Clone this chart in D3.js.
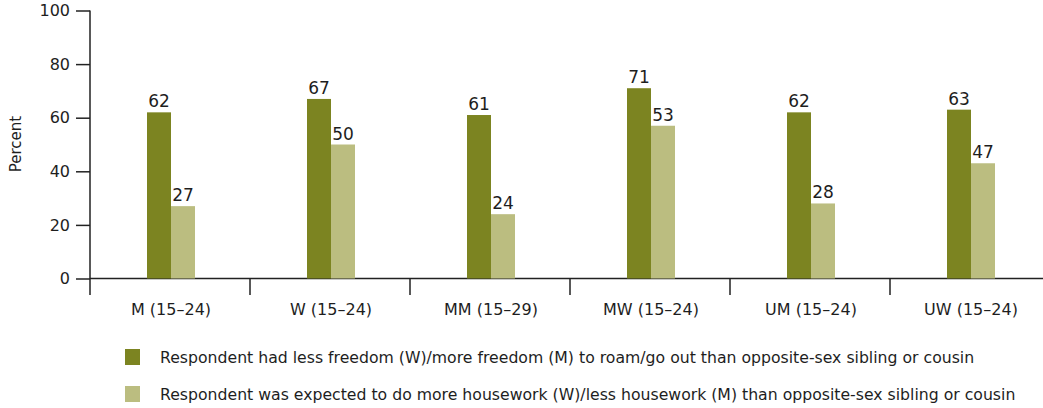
<!DOCTYPE html>
<html><head><meta charset="utf-8">
<script src="https://cdn.jsdelivr.net/npm/d3@7"></script>
<style>body{margin:0;background:#fff}svg text{font-family:"DejaVu Sans",sans-serif;fill:#1e1e1e}</style>
</head><body>
<svg id="c" width="1043" height="408"></svg>
<script>
const categories = ["M (15\u201324)","W (15\u201324)","MM (15\u201329)","MW (15\u201324)","UM (15\u201324)","UW (15\u201324)"];
const freedom = [62,67,61,71,62,63];
const freedomLabels = ["62","67","61","71","62","63"];
const housework = [27,50,24,57,28,43];
const houseworkLabels = ["27","50","24","53","28","47"];
const seriesNames = [
  "Respondent had less freedom (W)/more freedom (M) to roam/go out than opposite-sex sibling or cousin",
  "Respondent was expected to do more housework (W)/less housework (M) than opposite-sex sibling or cousin"
];
const yTicks = [0,20,40,60,80,100];
const colors = ["#7c8421","#bbbd80"];

const svg = d3.select("#c");
const y = d3.scaleLinear().domain([0,100]).range([278.5,10.5]);
const x = d3.scaleBand().domain(categories).range([90,1050]);
const bw = 24;

// y axis
const ya = svg.append("g").attr("transform","translate(90,0)")
  .call(d3.axisLeft(y).tickValues(yTicks).tickSize(14).tickPadding(6));
ya.select(".domain").attr("d","M0,10.5V295").attr("stroke","#222").attr("stroke-width",1.5);
ya.selectAll(".tick line").attr("stroke","#222").attr("stroke-width",1.5);
ya.selectAll(".tick text").style("font-size","16px").style("font-family","DejaVu Sans").attr("fill","#1e1e1e");

// x axis
svg.append("line").attr("x1",90).attr("x2",1050).attr("y1",y(0)).attr("y2",y(0)).attr("stroke","#222").attr("stroke-width",1.5);
categories.forEach((c,i)=>{
  svg.append("line").attr("x1",x(c)+x.bandwidth()).attr("x2",x(c)+x.bandwidth()).attr("y1",y(0)).attr("y2",295).attr("stroke","#222").attr("stroke-width",1.5);
  svg.append("text").attr("x",x(c)+x.bandwidth()/2+1).attr("y",315).attr("text-anchor","middle").style("font-size","16px").text(c);
});

const series = [[freedom,freedomLabels],[housework,houseworkLabels]];
series.forEach(([vals,labs],s)=>{
  const g = svg.append("g");
  g.selectAll("rect").data(vals).join("rect")
    .attr("x",(d,i)=>x(categories[i])+x.bandwidth()/2 - bw + 1 + s*bw)
    .attr("y",d=>y(d)).attr("width",bw).attr("height",d=>y(0)-y(d)).attr("fill",colors[s]);
  g.selectAll("text").data(vals).join("text")
    .attr("x",(d,i)=>x(categories[i])+x.bandwidth()/2 - bw/2 + 1 + s*bw)
    .attr("y",d=>y(d)-5).attr("text-anchor","middle").style("font-size","17px")
    .text((d,i)=>labs[i]);
});

// y label
svg.append("text").attr("transform","translate(21,144) rotate(-90)").attr("text-anchor","middle").style("font-size","15px").text("Percent");

// legend
seriesNames.forEach((n,i)=>{
  svg.append("rect").attr("x",125).attr("y",349+i*37).attr("width",15).attr("height",16).attr("fill",colors[i]);
  svg.append("text").attr("x",160).attr("y",363+i*37).style("font-size","15.7px").text(n);
});
</script>
</body></html>
